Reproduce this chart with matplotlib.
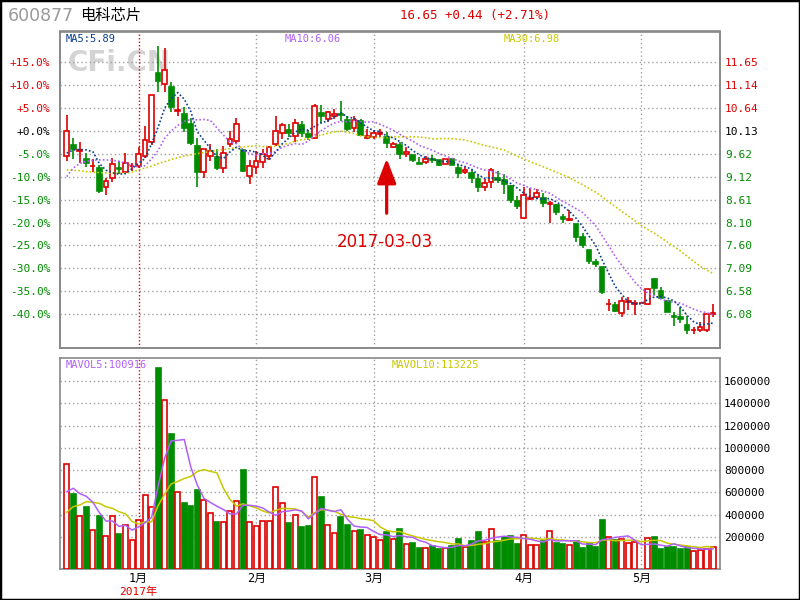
import numpy as np
import pandas as pd
import matplotlib
matplotlib.use('Agg')
import matplotlib.pyplot as plt
from matplotlib.patches import Rectangle

plt.rcParams['font.family'] = ['DejaVu Sans Mono', 'Noto Sans CJK SC']

# Dados (100 pregoes, dez/2016 - mai/2017)
opens = [9.57, 9.82, 9.69, 9.51, 9.35, 9.31, 8.88, 9.08, 9.32, 9.23,
         9.35, 9.36, 9.58, 9.88, 11.41, 11.17, 11.10, 10.57, 10.51, 10.29,
         9.80, 9.23, 9.58, 9.55, 9.31, 9.84, 9.90, 9.71, 9.14, 9.33,
         9.45, 9.57, 9.84, 10.08, 10.15, 10.02, 10.26, 10.06, 9.97, 10.53,
         10.39, 10.47, 10.51, 10.37, 10.19, 10.35, 9.97, 9.99, 10.06, 10.00,
         9.77, 9.82, 9.61, 9.60, 9.42, 9.44, 9.52, 9.49, 9.40, 9.50,
         9.30, 9.22, 9.19, 9.06, 8.88, 9.01, 9.09, 9.05, 8.91, 8.58,
         8.21, 8.62, 8.66, 8.65, 8.52, 8.49, 8.22, 8.15, 8.07, 7.78,
         7.50, 7.23, 7.11, 6.30, 6.27, 6.11, 6.35, 6.31, 6.32, 6.30,
         6.85, 6.59, 6.38, 6.03, 6.01, 5.84, 5.72, 5.73, 5.72, 6.09]
highs = [10.48, 9.98, 9.89, 9.64, 9.51, 9.38, 9.09, 9.54, 9.47, 9.64,
         9.42, 9.78, 10.23, 10.93, 12.01, 11.97, 11.21, 10.89, 10.67, 10.42,
         9.97, 9.73, 9.84, 9.73, 9.79, 10.14, 10.42, 9.73, 9.48, 9.69,
         9.73, 9.80, 10.46, 10.30, 10.28, 10.39, 10.36, 10.15, 10.73, 10.71,
         10.58, 10.61, 10.79, 10.45, 10.45, 10.39, 10.17, 10.15, 10.17, 10.10,
         9.88, 9.89, 9.77, 9.60, 9.56, 9.57, 9.59, 9.49, 9.50, 9.50,
         9.41, 9.34, 9.29, 9.16, 9.06, 9.30, 9.25, 9.17, 8.94, 8.69,
         8.90, 8.86, 8.84, 8.75, 8.59, 8.51, 8.29, 8.38, 8.07, 7.87,
         7.50, 7.30, 7.11, 6.41, 6.35, 6.46, 6.46, 6.39, 6.32, 6.63,
         6.88, 6.67, 6.39, 6.13, 6.23, 6.04, 5.80, 5.91, 6.08, 6.30]
lows = [9.47, 9.51, 9.43, 9.33, 9.22, 8.76, 8.71, 9.01, 9.18, 9.19,
        9.25, 9.32, 9.53, 9.82, 10.99, 11.00, 10.54, 10.46, 10.11, 9.82,
        8.88, 9.10, 9.47, 9.26, 9.21, 9.78, 9.84, 9.22, 8.96, 9.18,
        9.30, 9.49, 9.80, 9.95, 10.00, 9.89, 10.00, 9.93, 9.95, 10.30,
        10.32, 10.40, 10.34, 10.12, 10.11, 10.02, 9.96, 9.96, 9.99, 9.76,
        9.75, 9.50, 9.55, 9.44, 9.40, 9.40, 9.43, 9.36, 9.39, 9.38,
        9.10, 9.18, 8.98, 8.77, 8.81, 8.86, 8.98, 8.74, 8.53, 8.40,
        8.19, 8.60, 8.62, 8.44, 8.09, 8.27, 8.10, 8.14, 7.68, 7.55,
        7.19, 7.12, 6.52, 6.15, 6.12, 6.01, 6.18, 6.07, 6.32, 6.28,
        6.50, 6.42, 6.12, 5.82, 5.88, 5.64, 5.64, 5.69, 5.69, 6.01]
closes = [10.12, 9.74, 9.70, 9.43, 9.36, 8.81, 9.02, 9.39, 9.29, 9.42,
          9.36, 9.62, 9.92, 10.93, 11.24, 11.48, 10.65, 10.60, 10.20, 9.87,
          9.23, 9.73, 9.69, 9.31, 9.64, 9.95, 10.28, 9.25, 9.35, 9.47,
          9.61, 9.77, 10.12, 10.26, 10.09, 10.30, 10.09, 10.00, 10.68, 10.47,
          10.54, 10.50, 10.49, 10.17, 10.37, 10.03, 10.02, 10.09, 10.08, 9.86,
          9.84, 9.61, 9.67, 9.49, 9.41, 9.50, 9.49, 9.38, 9.50, 9.38,
          9.19, 9.27, 9.08, 8.90, 8.97, 9.26, 9.05, 8.96, 8.60, 8.46,
          8.71, 8.65, 8.75, 8.53, 8.54, 8.33, 8.18, 8.18, 7.78, 7.61,
          7.26, 7.18, 6.56, 6.31, 6.15, 6.38, 6.36, 6.32, 6.32, 6.63,
          6.65, 6.43, 6.13, 6.02, 5.96, 5.72, 5.73, 5.79, 6.08, 6.10]
volumes = [855000, 586000, 388000, 469000, 260000, 391000, 209000, 388000, 230000, 308000,
           173000, 353000, 577000, 469000, 1716000, 1429000, 1124000, 601000, 505000, 481000,
           622000, 529000, 413000, 335000, 332000, 431000, 523000, 804000, 332000, 299000,
           344000, 344000, 649000, 502000, 326000, 397000, 290000, 299000, 738000, 562000,
           308000, 236000, 379000, 311000, 257000, 263000, 218000, 197000, 173000, 245000,
           182000, 272000, 137000, 149000, 101000, 101000, 122000, 92000, 101000, 122000,
           182000, 110000, 164000, 245000, 155000, 269000, 164000, 203000, 209000, 140000,
           218000, 128000, 128000, 161000, 254000, 149000, 140000, 128000, 164000, 101000,
           149000, 113000, 353000, 197000, 170000, 182000, 146000, 155000, 0, 188000,
           197000, 92000, 110000, 110000, 92000, 113000, 72000, 81000, 92000, 110000]

# inicio das medias (janela incompleta)
ma5_head = [9.64, 9.71, 9.72, 9.71]
ma10_head = [9.12, 9.31, 9.41, 9.46, 9.48, 9.49, 9.49, 9.48, 9.46]
ma30_head = [9.27, 9.26, 9.25, 9.23, 9.22, 9.21, 9.20, 9.20, 9.20, 9.20,
             9.22, 9.27, 9.31, 9.35, 9.41, 9.45, 9.50, 9.54, 9.58, 9.60,
             9.63, 9.65, 9.68, 9.70, 9.72, 9.74, 9.76, 9.78, 9.79]
mavol5_head = [606000, 637000, 590000, 565000]
mavol10_head = [422000, 472000, 487000, 517000, 511000, 502000, 472000, 457000, 427000]

# textos das legendas, como aparecem no grafico
ma_texts = ['MA5:5.89', 'MA10:6.06', 'MA30:6.98']
mavol_texts = ['MAVOL5:100916', 'MAVOL10:113225']

base_price = 10.13
pct_levels = [15, 10, 5, 0, -5, -10, -15, -20, -25, -30, -35, -40]
vol_ticks = [200000, 400000, 600000, 800000, 1000000, 1200000, 1400000, 1600000]
month_idx = [11, 29, 47, 70, 88]
month_labels = ['1月', '2月', '3月', '4月', '5月']
year_label = '2017年'
mark_idx = 49
mark_label = '2017-03-03'

RED = '#dd0000'
GREEN = '#008c00'
NAVY = '#0a3d8f'
PURPLE = '#b060f8'
YELLOW = '#c8c800'
GRIDC = '#a0a0a0'

df = pd.DataFrame({'open': opens, 'high': highs, 'low': lows, 'close': closes, 'vol': volumes})
n = len(df)
x = np.arange(n)

def moving_avg(s, w, head):
    m = s.rolling(w).mean().to_numpy()
    m[:len(head)] = head
    return m

ma5 = moving_avg(df['close'], 5, ma5_head)
ma10 = moving_avg(df['close'], 10, ma10_head)
ma30 = moving_avg(df['close'], 30, ma30_head)
mavol5 = moving_avg(df['vol'], 5, mavol5_head)
mavol10 = moving_avg(df['vol'], 10, mavol10_head)

fig = plt.figure(figsize=(8, 6), dpi=100, facecolor='white')
ax = fig.add_axes([0.075, 0.4208, 0.825, 0.5267])
axv = fig.add_axes([0.075, 0.0517, 0.825, 0.3516])

# Painel de precos
grid_prices = [base_price * (1 + p / 100) for p in pct_levels]
ax.set_xlim(-1.03, 100.05)
ax.set_ylim(5.34, 12.33)
for i in x:
    o, h, l, c = df.loc[i, ['open', 'high', 'low', 'close']]
    up = c >= o
    col = RED if up else GREEN
    top, bot = max(o, c), min(o, c)
    ax.vlines(i, top, h, color=col, lw=1.2, zorder=3)
    ax.vlines(i, l, bot, color=col, lw=1.2, zorder=3)
    ax.add_patch(Rectangle((i - 0.36, bot), 0.72, top - bot,
                           facecolor='white' if up else col, edgecolor=col, lw=1.2, zorder=4))

dot = (0, (1, 1.3))
ax.plot(x, ma30, color=YELLOW, lw=1.2, ls=dot, zorder=5)
ax.plot(x, ma10, color=PURPLE, lw=1.2, ls=dot, zorder=5)
ax.plot(x, ma5, color=NAVY, lw=1.2, ls=dot, zorder=5)

# marca d'agua
ax.text(0.011, 0.900, 'CFi.CN', transform=ax.transAxes, fontsize=20, fontweight='bold',
        family='DejaVu Sans', color='#d4d4d4', va='center', ha='left', zorder=1)

ax.set_yticks(grid_prices)
pct_colors = [RED if p > 0 else ('black' if p == 0 else GREEN) for p in pct_levels]
ax.set_yticklabels([f'{p:+.1f}%' for p in pct_levels], fontsize=8)
for lab, col in zip(ax.get_yticklabels(), pct_colors):
    lab.set_color(col)
ax.tick_params(axis='y', length=0, pad=7)
ax.set_xticks([])
ax.grid(axis='y', color=GRIDC, ls=(0, (1, 2)), lw=1)

axr = ax.twinx()
axr.set_ylim(ax.get_ylim())
axr.set_yticks(grid_prices)
axr.set_yticklabels([f'{p:.2f}' for p in grid_prices], fontsize=8)
for lab, col in zip(axr.get_yticklabels(), pct_colors):
    lab.set_color(col)
axr.tick_params(axis='y', length=0, pad=3.5)

for xt, txt, col in zip([0.008, 0.340, 0.672], ma_texts, [NAVY, PURPLE, YELLOW]):
    ax.text(xt, 0.975, txt, transform=ax.transAxes, fontsize=7.5, color=col, va='center', zorder=7)

ax.annotate('', xy=(mark_idx, 9.52), xytext=(mark_idx, 8.31),
            arrowprops=dict(arrowstyle='-|>,head_length=0.6,head_width=0.23', color=RED,
                            lw=2.3, mutation_scale=25, shrinkA=0, shrinkB=0), zorder=6)
ax.text(mark_idx - 0.2, 7.67, mark_label, fontsize=12, family='DejaVu Sans', color=RED,
        ha='center', va='center', zorder=6)

# Painel de volume
vol_floor, vol_top = -87000, 1806000
axv.set_xlim(ax.get_xlim())
axv.set_ylim(vol_floor, vol_top)
for i in x:
    v = df.loc[i, 'vol']
    if v <= 0:
        continue  # dia suspenso, sem volume
    up = df.loc[i, 'close'] >= df.loc[i, 'open']
    col = RED if up else GREEN
    axv.add_patch(Rectangle((i - 0.38, vol_floor), 0.76, v - vol_floor,
                            facecolor='white' if up else col, edgecolor=col, lw=1.2, zorder=3))
axv.plot(x, mavol10, color=YELLOW, lw=1.1, zorder=5)
axv.plot(x, mavol5, color=PURPLE, lw=1.1, zorder=5)
axv.yaxis.tick_right()
axv.set_yticks(vol_ticks)
axv.set_yticklabels([str(v) for v in vol_ticks], fontsize=8)
axv.tick_params(axis='y', length=0, pad=3)
axv.grid(axis='y', color=GRIDC, ls=(0, (1, 2)), lw=1)
axv.set_xticks(month_idx)
axv.set_xticklabels(month_labels, fontsize=8.5)
axv.tick_params(axis='x', length=0, pad=2)
axv.text(month_idx[0], -0.106, year_label, transform=axv.get_xaxis_transform(),
         fontsize=8, color=RED, ha='center', va='center')
for xt, txt, col in zip([0.008, 0.502], mavol_texts, [PURPLE, YELLOW]):
    axv.text(xt, 0.966, txt, transform=axv.transAxes, fontsize=7.5, color=col, va='center', zorder=7)

for a in (ax, axv):
    for k, m in enumerate(month_idx):
        if k == 0:
            a.axvline(m, color='#ee0000', ls=(0, (1, 1.5)), lw=1, zorder=2)
        else:
            a.axvline(m, color=GRIDC, ls=(0, (1, 2)), lw=1, zorder=2)
for a in (ax, axr, axv):
    for s in a.spines.values():
        s.set_color('#888888')
        s.set_linewidth(1.2)

# Cabecalho
fig.text(8 / 800, 1 - 16 / 600, '600877', fontsize=12.5, family='DejaVu Sans', color='#9a9a9a', va='center')
fig.text(80 / 800, 1 - 15 / 600, '电科芯片', fontsize=11, family='Noto Sans CJK SC', color='black', va='center')
fig.text(475 / 800, 1 - 15 / 600, '16.65 +0.44 (+2.71%)', fontsize=9, color=RED, ha='center', va='center')

fig.patches.append(Rectangle((0, 0), 1, 1, transform=fig.transFigure, fill=False,
                             edgecolor='black', lw=2.5, zorder=10))

fig.savefig('out.png', dpi=100, facecolor='white')
